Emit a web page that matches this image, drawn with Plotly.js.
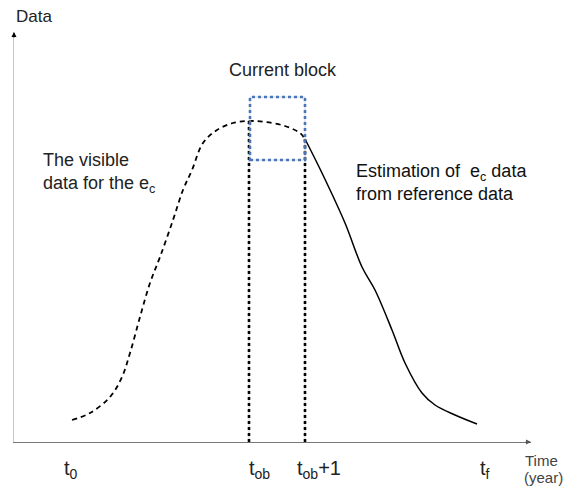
<!DOCTYPE html>
<html>
<head>
<meta charset="utf-8">
<script src="https://cdn.plot.ly/plotly-3.0.1.min.js"></script>
<style>html,body{margin:0;padding:0;background:#fff;}#chart{width:563px;height:486px;}</style>
</head>
<body>
<div id="chart"></div>
<script>
// Visible (observed) data for e_c — dashed
var visibleTime = [58, 76, 96, 108, 116, 126, 136, 146, 159, 169, 178, 189, 203, 219, 235, 251, 271, 286, 291];
var visibleData = [22, 29, 45, 65, 89, 125, 159, 185, 222, 252, 272, 299, 312, 319, 321, 320, 316, 309, 303];
// Estimated data from reference data — solid
var estTime = [291, 308, 331, 348, 361, 378, 391, 408, 421, 441, 463];
var estData = [303, 269, 219, 175, 152, 112, 79, 49, 37, 27, 18];
// Key times
var keyTimes = [48, 233, 281, 464];
var keyLabels = ['t<sub>0</sub>', 't<sub>ob</sub>', 't<sub>ob</sub>+1', 't<sub>f</sub>'];
var tOb = 235, tOb1 = 291;
var blockLow = 282, blockHigh = 345;

var FONT = 'Liberation Sans, Arial, sans-serif';
var PH = 410; // plot height in data units (y range)

var traces = [
  {x: [tOb, tOb], y: [0, 321], mode: 'lines', line: {color: '#d0d0d0', width: 1}, hoverinfo: 'skip'},
  {x: [tOb1, tOb1], y: [0, 303], mode: 'lines', line: {color: '#d0d0d0', width: 1}, hoverinfo: 'skip'},
  {x: [tOb, tOb], y: [0, 321], mode: 'lines', line: {color: '#000', width: 2.6, dash: '3px,3px'}, hoverinfo: 'skip'},
  {x: [tOb1, tOb1], y: [0, 303], mode: 'lines', line: {color: '#000', width: 2.6, dash: '3px,3px'}, hoverinfo: 'skip'},
  {x: visibleTime, y: visibleData, mode: 'lines', line: {color: '#000', width: 1.8, dash: '5px,4px', shape: 'spline', smoothing: 1}},
  {x: estTime, y: estData, mode: 'lines', line: {color: '#000', width: 1.5, shape: 'spline', smoothing: 1}}
];

var shapes = [
  {type: 'rect', xref: 'x', yref: 'y', x0: tOb + 1, x1: tOb1, y0: blockLow, y1: blockHigh,
   line: {color: '#c9d6ea', width: 1}},
  {type: 'rect', xref: 'x', yref: 'y', x0: tOb + 1, x1: tOb1, y0: blockLow, y1: blockHigh,
   line: {color: '#4a76b8', width: 2.6, dash: '3px,3px'}}
];

var annotations = [
  {x: 0, y: 410, ax: 0, ay: 403, axref: 'x', ayref: 'y', xref: 'x', yref: 'y', text: '', showarrow: true,
   arrowhead: 2, arrowsize: 1, arrowwidth: 1, arrowcolor: '#000'},
  {x: 517, y: 0, ax: 510, ay: 0, axref: 'x', ayref: 'y', xref: 'x', yref: 'y', text: '', showarrow: true,
   arrowhead: 2, arrowsize: 1, arrowwidth: 1, arrowcolor: '#555'},
  {x: 0, y: 425 / PH, xref: 'x', yref: 'paper', xanchor: 'left', yanchor: 'middle', showarrow: false,
   text: 'Data', font: {family: FONT, size: 17, color: '#222'}},
  {x: 269, y: 372, xref: 'x', yref: 'y', xanchor: 'center', yanchor: 'middle', showarrow: false,
   text: 'Current block', font: {family: FONT, size: 18, color: '#222'}},
  {x: 27, y: 294, xref: 'x', yref: 'y', xanchor: 'left', yanchor: 'top', align: 'left', showarrow: false,
   text: 'The visible<br>data for the e<sub>c</sub>', font: {family: FONT, size: 18, color: '#222'}},
  {x: 340, y: 283, xref: 'x', yref: 'y', xanchor: 'left', yanchor: 'top', align: 'left', showarrow: false,
   text: 'Estimation of  e<sub>c</sub> data<br>from reference data', font: {family: FONT, size: 18, color: '#111'}},
  {x: 509, y: -8 / PH, xref: 'x', yref: 'paper', xanchor: 'left', yanchor: 'top', align: 'left', showarrow: false,
   text: 'Time', font: {family: FONT, size: 15, color: '#444'}},
  {x: 508, y: -25 / PH, xref: 'x', yref: 'paper', xanchor: 'left', yanchor: 'top', align: 'left', showarrow: false,
   text: '(year)', font: {family: FONT, size: 15, color: '#444'}}
];
for (var i = 0; i < keyTimes.length; i++) {
  annotations.push({x: keyTimes[i], y: -13 / PH, xref: 'x', yref: 'paper', xanchor: 'left', yanchor: 'top',
    showarrow: false, text: keyLabels[i], font: {family: FONT, size: 20, color: '#222'}});
}

var layout = {
  width: 563, height: 486, autosize: false,
  margin: {l: 14, r: 32, t: 32, b: 44, pad: 0},
  paper_bgcolor: '#fff', plot_bgcolor: '#fff',
  showlegend: false,
  xaxis: {range: [0, 517], showgrid: false, zeroline: false, showticklabels: false, ticks: '',
          showline: true, linecolor: '#777', linewidth: 1, fixedrange: true},
  yaxis: {range: [0, PH], showgrid: false, zeroline: false, showticklabels: false, ticks: '',
          showline: true, linecolor: '#c8c8c8', linewidth: 1.5, fixedrange: true},
  shapes: shapes,
  annotations: annotations,
  font: {family: FONT}
};

Plotly.newPlot('chart', traces, layout, {staticPlot: true, displayModeBar: false});
</script>
</body>
</html>
